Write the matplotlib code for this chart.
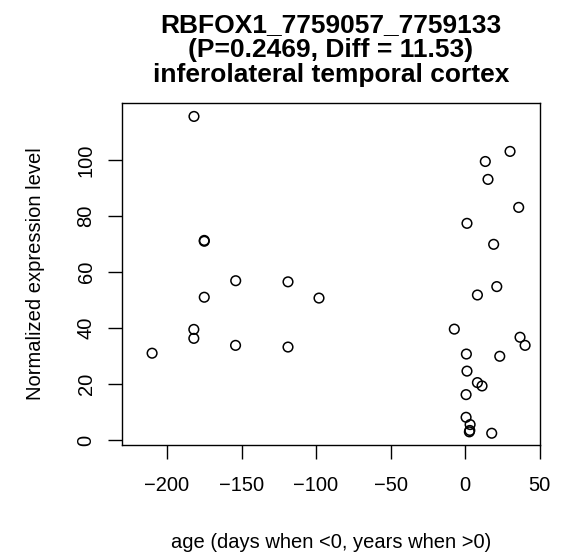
import matplotlib
matplotlib.use("Agg")
import matplotlib.pyplot as plt

plt.rcParams['font.family'] = ['Liberation Sans', 'DejaVu Sans']

age = [-181.9, -175.0, -175.0, -153.9, -118.8, -175.0, -98.0, -182.0, -182.0, -154.0, -118.8, -210.0,
       30.2, 13.6, 15.4, 36.0, 1.3, 19.2, 21.3, 8.3, -7.2, 36.9, 40.3, 0.9, 23.3, 1.3, 8.3, 11.4,
       0.7, 0.7, 3.4, 2.9, 3.2, 17.9]
expr = [115.6, 71.0, 71.3, 56.9, 56.5, 51.0, 50.7, 39.5, 36.3, 33.8, 33.2, 31.0,
        103.1, 99.5, 93.1, 83.1, 77.4, 69.9, 54.8, 51.8, 39.6, 36.7, 33.8, 30.7, 29.9, 24.6, 20.5, 19.3,
        16.2, 8.1, 5.5, 2.9, 3.4, 2.4]

xticks = [-200, -150, -100, -50, 0, 50]
yticks = [0, 20, 40, 60, 80, 100]
title_lines = ['RBFOX1_7759057_7759133', '(P=0.2469, Diff = 11.53)', 'inferolateral temporal cortex']

W, H = 564, 553
fig = plt.figure(figsize=(W/100, H/100), dpi=100)
ax = fig.add_axes([122/W, 1-445/H, (540-122)/W, (445-103)/H])
ax.scatter(age, expr, s=48, facecolors='none', edgecolors='black', linewidths=1.1)
ax.set_xlim(-230.2, 50.3)
ax.set_ylim(-1.8, 120.4)
ax.set_xticks(xticks)
ax.set_xticklabels(['\u2212200', '\u2212150', '\u2212100', '\u221250', '0', '50'])
ax.set_yticks(yticks)
ax.set_yticklabels([str(v) for v in yticks], rotation=90, va='center')
ax.tick_params(axis='both', labelsize=14.5, length=10, width=1)
ax.tick_params(axis='x', pad=12)
ax.tick_params(axis='y', pad=9)
for s in ax.spines.values():
    s.set_linewidth(1)
ax.set_xlabel('age (days when <0, years when >0)', fontsize=14.5)
ax.set_ylabel('Normalized expression level', fontsize=14.5)
ax.xaxis.set_label_coords(0.5, (445-533)/342)
ax.yaxis.set_label_coords((45-122)/418, 0.5)
for line, yb in zip(title_lines, [32, 57, 82]):
    fig.text(331/W, 1-yb/H, line, ha='center', va='baseline', fontsize=19, fontweight='bold')
fig.savefig('out.png', dpi=100)
